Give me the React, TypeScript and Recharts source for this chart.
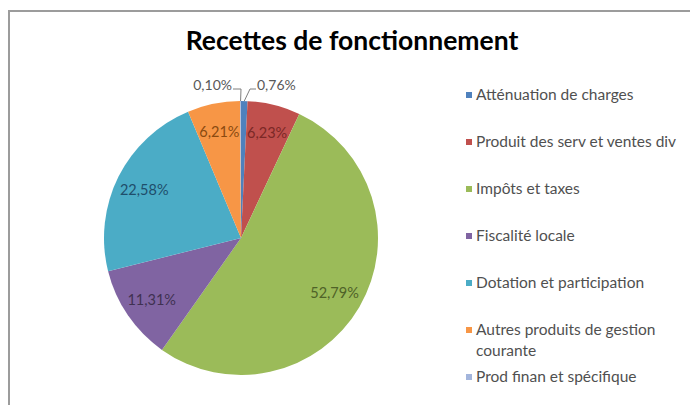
import React from 'react';
import { PieChart, Pie, Cell, Legend } from 'recharts';

const categories = [
  'Atténuation de charges',
  'Produit des serv et ventes div',
  'Impôts et taxes',
  'Fiscalité locale',
  'Dotation et participation',
  'Autres produits de gestion courante',
  'Prod finan et spécifique',
];
const shares = [0.76, 6.23, 52.79, 11.31, 22.58, 6.21, 0.1];

const COLORS = ['#4f81bd', '#c0504d', '#9bbb59', '#8064a2', '#4bacc6', '#f79646', '#a3b5dc'];
const LABEL_COLORS = ['#595959', '#7b2826', '#4f6228', '#3f3151', '#1f4e6b', '#8a4a10', '#595959'];

const data = categories.map((name, i) => ({ name, value: shares[i] }));

const RADIAN = Math.PI / 180;
const FONT = 'Lato, "Open Sans", sans-serif';

const fmt = (v: number) => v.toFixed(2).replace('.', ',') + '%';

const renderLabel = (props: any) => {
  const { cx, cy, midAngle, outerRadius, index, value } = props;
  const cos = Math.cos(-midAngle * RADIAN);
  const sin = Math.sin(-midAngle * RADIAN);
  if (value < 1) {
    // tiny slices: label outside with a leader line
    const right = cos >= 0;
    const sx = cx + outerRadius * cos;
    const sy = cy + outerRadius * sin;
    const ey = cy - outerRadius - 12;
    const mx = right ? cx + 9 : cx;
    const ex = right ? mx + 6 : mx - 8;
    return (
      <g>
        <polyline
          points={`${sx},${sy} ${mx},${ey} ${ex},${ey}`}
          fill="none"
          stroke="#7f7f7f"
          strokeWidth={1}
        />
        <text
          x={right ? ex + 1 : ex - 1}
          y={ey - 5}
          textAnchor={right ? 'start' : 'end'}
          dominantBaseline="central"
          fill={LABEL_COLORS[index]}
          fontFamily={FONT}
          fontSize={14}
        >
          {fmt(value)}
        </text>
      </g>
    );
  }
  const r = outerRadius * 0.79;
  return (
    <text
      x={cx + r * cos}
      y={cy + r * sin}
      textAnchor="middle"
      dominantBaseline="central"
      fill={LABEL_COLORS[index]}
      fontFamily={FONT}
      fontSize={14.5}
    >
      {fmt(value)}
    </text>
  );
};

const renderLegend = () => (
  <ul style={{ listStyle: 'none', margin: 0, padding: 0, fontFamily: FONT, fontSize: 15.5, color: '#505050' }}>
    {categories.map((c, i) => (
      <li key={c} style={{ display: 'flex', alignItems: 'flex-start', minHeight: 47, lineHeight: '21px' }}>
        <span
          style={{ width: 6, height: 6, background: COLORS[i], marginTop: 8, marginRight: 4, flexShrink: 0 }}
        />
        <span style={{ width: 212 }}>{c}</span>
      </li>
    ))}
  </ul>
);

export default function App() {
  return (
    <div style={{ position: 'absolute', left: 0, top: 0, width: 690, height: 405, background: '#fff', overflow: 'hidden' }}>
      <div
        style={{
          position: 'absolute',
          left: 8,
          top: 10,
          right: -10,
          bottom: -10,
          borderTop: '2px solid #9c9c9c',
          borderLeft: '2px solid #9c9c9c',
        }}
      />
      <div
        style={{
          position: 'absolute',
          left: 0,
          width: 704,
          top: 24,
          textAlign: 'center',
          fontFamily: FONT,
          fontWeight: 700,
          fontSize: 26.5,
          color: '#000',
        }}
      >
        Recettes de fonctionnement
      </div>
      <div style={{ position: 'absolute', left: 0, top: 0 }}>
        <PieChart width={690} height={405}>
          <Pie
            data={data}
            dataKey="value"
            nameKey="name"
            cx={236}
            cy={233}
            outerRadius={137}
            startAngle={90}
            endAngle={-270}
            stroke="none"
            label={renderLabel}
            labelLine={false}
            isAnimationActive={false}
          >
            {data.map((d, i) => (
              <Cell key={d.name} fill={COLORS[i]} />
            ))}
          </Pie>
          <Legend
            layout="vertical"
            align="right"
            verticalAlign="top"
            content={renderLegend}
            wrapperStyle={{ left: 466, top: 84, width: 224 }}
          />
        </PieChart>
      </div>
    </div>
  );
}
